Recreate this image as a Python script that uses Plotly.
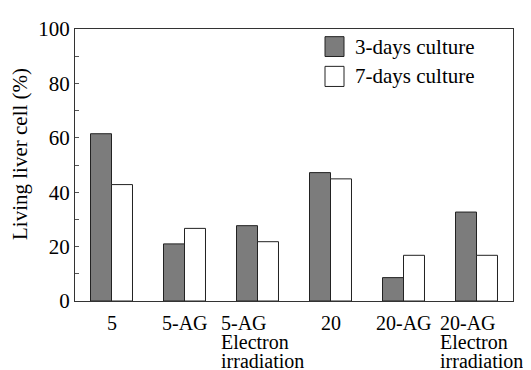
import plotly.graph_objects as go

categories = ["5", "5-AG", "5-AG\nElectron\nirradiation", "20", "20-AG", "20-AG\nElectron\nirradiation"]
series_names = ["3-days culture", "7-days culture"]
values_3days = [61.5, 21, 27.7, 47.2, 8.6, 32.7]
values_7days = [42.8, 26.7, 21.8, 44.9, 16.8, 16.8]
y_ticks = [0, 20, 40, 60, 80, 100]

FONT = "Liberation Serif, Times New Roman, serif"
FS = 21
FS_X = 20
DARK = "#7c7c7c"
EDGE = "#222222"

OFF = 8  # page body margin
ML, MR, MT, MB = 67, 18, 9, 69
W, H = 531 - OFF, 370 - OFF
PW, PH = W - ML - MR, H - MT - MB


def px_x(p):
    return (p - OFF - ML) / PW


def px_y(p):
    return (OFF + H - MB - p) / PH


xs = list(range(len(categories)))

fig = go.Figure()
fig.add_trace(go.Bar(x=xs, y=values_3days, name=series_names[0],
                     marker=dict(color=DARK, line=dict(color=EDGE, width=1))))
fig.add_trace(go.Bar(x=xs, y=values_7days, name=series_names[1],
                     marker=dict(color="white", line=dict(color=EDGE, width=1))))

annotations = []
line_tops = [-9, -28, -47]
for i, lab in enumerate(categories):
    lines = lab.split("\n")
    multi = len(lines) > 1
    for j, ln in enumerate(lines):
        annotations.append(dict(
            x=i, xref="x", y=0, yref="paper", text=ln, showarrow=False,
            xanchor="left" if multi else "center",
            xshift=-39 if multi else 0,
            yanchor="top", yshift=line_tops[j],
            font=dict(family=FONT, size=FS_X, color="black")))

annotations.append(dict(
    x=0, xref="paper", xshift=-55, y=px_y(147.5), yref="paper",
    text="Living liver cell (%)", textangle=-90, showarrow=False,
    xanchor="center", yanchor="middle",
    font=dict(family=FONT, size=FS, color="black")))

shapes = []
legend_boxes = [(25, 45.7), (56, 77)]
fills = [DARK, "white"]
for (top, bot), fill, name in zip(legend_boxes, fills, series_names):
    shapes.append(dict(type="rect", xref="paper", yref="paper",
                       x0=px_x(325), x1=px_x(344), y0=px_y(bot), y1=px_y(top),
                       fillcolor=fill, line=dict(color=EDGE, width=1)))
    annotations.append(dict(
        x=px_x(353), xref="paper", y=px_y((top + bot) / 2), yref="paper",
        text=name, showarrow=False, xanchor="left", yanchor="middle",
        font=dict(family=FONT, size=FS, color="black")))

fig.update_layout(
    width=W, height=H,
    margin=dict(l=ML, r=MR, t=MT, b=MB, pad=0),
    paper_bgcolor="white", plot_bgcolor="white",
    barmode="group", bargap=0.425, bargroupgap=0,
    showlegend=False,
    font=dict(family=FONT, size=FS, color="black"),
    annotations=annotations, shapes=shapes,
)
fig.update_xaxes(range=[-0.5, len(categories) - 0.5], showticklabels=False,
                 ticks="", showgrid=False, zeroline=False,
                 showline=True, mirror=True, linecolor="#333333", linewidth=1)
fig.update_yaxes(range=[0, 100], tickvals=y_ticks, ticks="inside", ticklen=4,
                 tickcolor="#555555", tickwidth=1, ticklabeloverflow="allow",
                 minor=dict(dtick=10, ticks="inside", ticklen=4, tickcolor="#555555", tickwidth=1),
                 showgrid=False, zeroline=False,
                 showline=True, mirror=True, linecolor="#333333", linewidth=1,
                 tickfont=dict(family=FONT, size=FS, color="black"))

fig.write_html("out.html")
